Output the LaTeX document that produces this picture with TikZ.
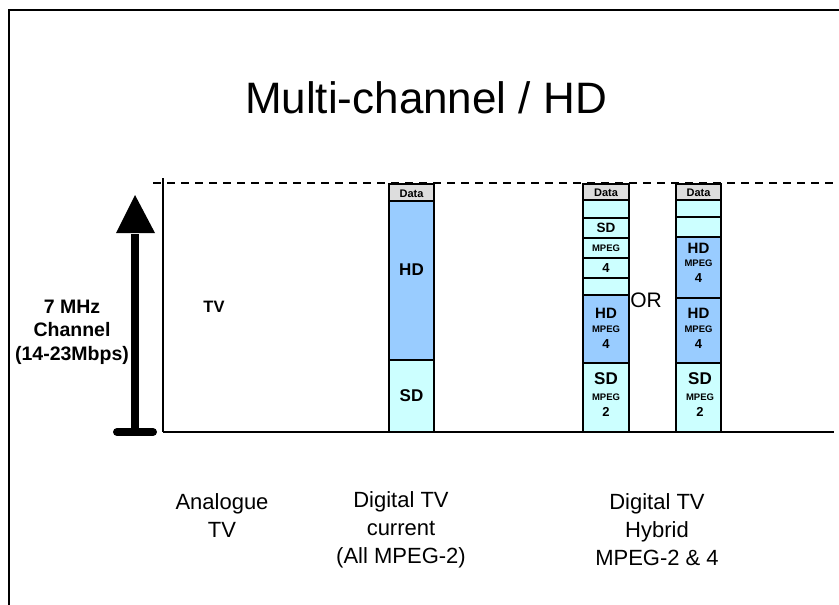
\documentclass[tikz,border=0pt]{standalone}
\usepackage{fontspec}
\setmainfont{Liberation Sans}
\definecolor{hdblue}{RGB}{153,204,255}
\definecolor{sdcyan}{RGB}{204,255,255}
\definecolor{datagrey}{RGB}{221,221,221}
\tikzset{
  box/.style={draw, line width=1.2pt, inner sep=0pt, minimum width=45pt},
  hdbox/.style={box, fill=hdblue},
  sdbox/.style={box, fill=sdcyan},
  databox/.style={box, fill=datagrey},
  big/.style={font=\fontsize{17}{19}\selectfont\bfseries, inner sep=0pt},
  mid/.style={font=\fontsize{15}{17}\selectfont\bfseries, inner sep=0pt},
  small/.style={font=\fontsize{9.5}{10}\selectfont\bfseries, inner sep=0pt},
  num/.style={font=\fontsize{13}{14}\selectfont\bfseries, inner sep=0pt},
  datatxt/.style={font=\fontsize{11}{12}\selectfont\bfseries, inner sep=0pt},
  caption/.style={font=\fontsize{22}{28}\selectfont, align=center, inner sep=0pt},
}
\begin{document}
\begin{tikzpicture}[x=1pt,y=-1pt]
\useasboundingbox (0,0) rectangle (839,605);
% outer frame (left and top visible)
\coordinate (fbl) at (9,605);
\coordinate (ftl) at (9,10);
\coordinate (ftr) at (839,10);
\draw[line width=2pt] (fbl) -- (ftl) -- (ftr);
% title
\node[font=\fontsize{44}{48}\selectfont, anchor=base, inner sep=0pt] (title) at (426,113) {Multi-channel / HD};
% axes
\coordinate (vtop) at (163,178);
\coordinate (bl) at (163,432);
\coordinate (br) at (834,432);
\coordinate (dl) at (153,183);
\coordinate (dr) at (834,183);
\draw[line width=1.3pt] (vtop) -- (bl);
\draw[line width=2pt] (bl) -- (br);
\draw[line width=1.5pt, dash pattern=on 8pt off 6pt] (dl) -- (dr);
% big arrow
\coordinate (abot) at (135,432);
\coordinate (atop) at (135,234);
\coordinate (al) at (116,233);
\coordinate (ar) at (155,233);
\coordinate (atip) at (135,195);
\coordinate (barl) at (117,432);
\coordinate (barr) at (153,432);
\draw[line width=8pt] (abot) -- (atop);
\fill (al) -- (atip) -- (ar) -- cycle;
\draw[line width=8pt, line cap=round] (barl) -- (barr);
\node[font=\fontsize{19.5}{23.5}\selectfont\bfseries, align=center, inner sep=0pt] (chan) at (72,332) {7 MHz\\Channel\\(14-23Mbps)};
\node[font=\fontsize{16.5}{18}\selectfont\bfseries, inner sep=0pt] (tv) at (214,307) {TV};
% column 1: digital TV current
\node[databox, minimum height=17pt] (c1d) at (411.5,192.5) {};
\node[hdbox, minimum height=159pt] (c1h) at (411.5,280.5) {};
\node[sdbox, minimum height=72pt] (c1s) at (411.5,396) {};
\node[datatxt] (c1dt) at (411.5,194) {Data};
\node[big] (c1ht) at (411.5,270) {HD};
\node[big] (c1st) at (411.5,396) {SD};
% column 2: hybrid (left)
\node[databox, minimum height=16pt, minimum width=46pt] (c2d) at (606,192) {};
\node[sdbox, minimum height=18pt, minimum width=46pt] (c2a) at (606,209) {};
\node[sdbox, minimum height=20pt, minimum width=46pt] (c2b) at (606,228) {};
\node[sdbox, minimum height=20pt, minimum width=46pt] (c2c) at (606,248) {};
\node[sdbox, minimum height=20pt, minimum width=46pt] (c2e) at (606,268) {};
\node[sdbox, minimum height=17pt, minimum width=46pt] (c2f) at (606,286.5) {};
\node[hdbox, minimum height=68pt, minimum width=46pt] (c2h) at (606,329) {};
\node[sdbox, minimum height=69pt, minimum width=46pt] (c2s) at (606,397.5) {};
\node[datatxt] (c2dt) at (606,192.5) {Data};
\node[font=\fontsize{13.5}{15}\selectfont\bfseries, inner sep=0pt] (c2bt) at (606,228) {SD};
\node[small] (c2ct) at (606,248) {MPEG};
\node[num] (c2et) at (606,268) {4};
\node[mid] (c2ht) at (606,313) {HD};
\node[small] (c2hm) at (606,329) {MPEG};
\node[num] (c2hn) at (606,344) {4};
\node[big] (c2st) at (606,379) {SD};
\node[small] (c2sm) at (606,397) {MPEG};
\node[num] (c2sn) at (606,412) {2};
% OR
\node[font=\fontsize{21}{23}\selectfont, inner sep=0pt] (or) at (646,300) {OR};
% column 3: hybrid (right)
\node[databox, minimum height=16pt] (c3d) at (698.5,192) {};
\node[sdbox, minimum height=17pt] (c3a) at (698.5,208.5) {};
\node[sdbox, minimum height=20pt] (c3b) at (698.5,227) {};
\node[hdbox, minimum height=61pt] (c3h1) at (698.5,267.5) {};
\node[hdbox, minimum height=65pt] (c3h2) at (698.5,330.5) {};
\node[sdbox, minimum height=69pt] (c3s) at (698.5,397.5) {};
\node[datatxt] (c3dt) at (698.5,193) {Data};
\node[mid] (c3h1t) at (698.5,248) {HD};
\node[small] (c3h1m) at (698.5,263) {MPEG};
\node[num] (c3h1n) at (698.5,278) {4};
\node[mid] (c3h2t) at (698.5,313) {HD};
\node[small] (c3h2m) at (698.5,329) {MPEG};
\node[num] (c3h2n) at (698.5,344) {4};
\node[big] (c3st) at (700,379) {SD};
\node[small] (c3sm) at (700,397) {MPEG};
\node[num] (c3sn) at (700,412) {2};
% captions
\node[caption] (cap1) at (222,516) {Analogue\\TV};
\node[caption] (cap2) at (401,530) {Digital TV\\current\\(All MPEG-2)};
\node[caption] (cap3) at (657,530) {Digital TV\\Hybrid\\MPEG-2 \& 4};
\end{tikzpicture}
\end{document}
